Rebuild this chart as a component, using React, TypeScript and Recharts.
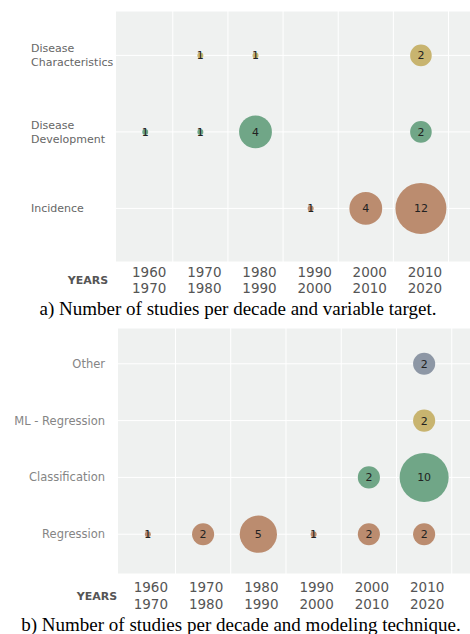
import React from "react";
import {
  ScatterChart, Scatter, XAxis, YAxis, ZAxis, CartesianGrid,
  ReferenceLine, LabelList
} from "recharts";

const decades = [1960, 1970, 1980, 1990, 2000, 2010];
const decadeEnds = [1970, 1980, 1990, 2000, 2010, 2020];
const decadeBounds = [1965, 1975, 1985, 1995, 2005, 2015];

// a) variable target
const targetRows = ["Incidence", "Disease Development", "Disease Characteristics"];
const characteristicsCounts = [null, 1, 1, null, null, 2];
const developmentCounts = [1, 1, 4, null, null, 2];
const incidenceCounts = [null, null, null, 1, 4, 12];

// b) modeling technique
const techniqueRows = ["Regression", "Classification", "ML - Regression", "Other"];
const regressionCounts = [1, 2, 5, 1, 2, 2];
const classificationCounts = [null, null, null, null, 2, 10];
const mlRegressionCounts = [null, null, null, null, null, 2];
const otherCounts = [null, null, null, null, null, 2];

const GOLD = "#c8b46f";
const GREEN = "#70a687";
const BROWN = "#bb8c6f";
const SLATE = "#8d97a5";
const BG = "#eff1f0";

function toPoints(counts: (number | null)[], row: number) {
  return decades
    .map((year, i) => (counts[i] ? { year, row, n: counts[i] } : null))
    .filter(Boolean) as { year: number; row: number; n: number }[];
}

function makeYearTick(dy1: number, dy2: number, dx: number, fill: string) {
  return (props: any) => {
    const { x, y, payload } = props;
    const i = decades.indexOf(payload.value);
    return (
      <text x={x + dx} y={y} textAnchor="middle" fontSize={13.5} fill={fill}
        fontFamily="DejaVu Sans">
        <tspan x={x + dx} dy={dy1}>{payload.value}</tspan>
        <tspan x={x + dx} dy={dy2 - dy1}>{decadeEnds[i]}</tspan>
      </text>
    );
  };
}

const TargetTick = (props: any) => {
  const { y, payload } = props;
  const words = targetRows[payload.value].split(" ");
  const start = -((words.length - 1) * 14) / 2;
  return (
    <text x={31} y={y} textAnchor="start" fontSize={11} fill="#666"
      fontFamily="DejaVu Sans">
      {words.map((w, i) => (
        <tspan key={w} x={31} dy={i === 0 ? start + 4 : 14}>{w}</tspan>
      ))}
    </text>
  );
};

const TechniqueTick = (props: any) => {
  const { y, payload } = props;
  return (
    <text x={105} y={y + 4} textAnchor="end" fontSize={11.5} fill="#858585"
      fontFamily="DejaVu Sans">
      {techniqueRows[payload.value]}
    </text>
  );
};

const labelStyle = { fontSize: 11, fill: "#222", fontFamily: "DejaVu Sans" };

function Bubbles({ data, color }: { data: any[]; color: string }) {
  return (
    <Scatter data={data} fill={color} isAnimationActive={false}>
      <LabelList dataKey="n" position="center" style={labelStyle} />
    </Scatter>
  );
}

const yearsStyle: React.CSSProperties = {
  position: "absolute", width: 60, textAlign: "center",
  fontFamily: "DejaVu Sans", fontWeight: "bold", fontSize: 11, color: "#555",
};

const captionStyle: React.CSSProperties = {
  position: "absolute", left: 0, width: 470, textAlign: "center",
  fontFamily: "Liberation Serif", fontSize: 19, lineHeight: "22px", color: "#000",
};

export default function App() {
  return (
    <div style={{ position: "relative", width: 470, height: 634, background: "#fff", overflow: "hidden" }}>
      <style>{"body{margin:0}"}</style>

      <div style={{ position: "absolute", left: 0, top: 0 }}>
        <ScatterChart width={470} height={300} margin={{ top: 11, right: 0, bottom: 0, left: 0 }}>
          <CartesianGrid fill={BG} stroke="#fff" vertical={false} />
          {decadeBounds.map((b) => (
            <ReferenceLine key={b} x={b} stroke="#fff" />
          ))}
          <XAxis type="number" dataKey="year" domain={[1954.7, 2018.9]} allowDataOverflow
            ticks={decades} interval={0} height={38} axisLine={false} tickLine={false}
            tickSize={0} tickMargin={0} tick={makeYearTick(15, 31, 4, "#555")} />
          <YAxis type="number" dataKey="row" domain={[-0.7, 2.58]} allowDataOverflow
            ticks={[0, 1, 2]} width={116} axisLine={false} tickLine={false} tick={TargetTick} />
          <ZAxis type="number" dataKey="n" domain={[1, 12]} range={[28, 2043]} scale="sqrt" />
          <Bubbles data={toPoints(characteristicsCounts, 2)} color={GOLD} />
          <Bubbles data={toPoints(developmentCounts, 1)} color={GREEN} />
          <Bubbles data={toPoints(incidenceCounts, 0)} color={BROWN} />
        </ScatterChart>
      </div>
      <div style={{ ...yearsStyle, left: 58, top: 274 }}>YEARS</div>
      <div style={{ ...captionStyle, left: 3, top: 298 }}>
        a) Number of studies per decade and variable target.
      </div>

      <div style={{ position: "absolute", left: 0, top: 317 }}>
        <ScatterChart width={470} height={300} margin={{ top: 11, right: 0, bottom: 0, left: 0 }}>
          <CartesianGrid fill={BG} stroke="#fff" vertical={false} />
          {decadeBounds.map((b) => (
            <ReferenceLine key={b} x={b} stroke="#fff" />
          ))}
          <XAxis type="number" dataKey="year" domain={[1954.6, 2018.3]} allowDataOverflow
            ticks={decades} interval={0} height={43} axisLine={false} tickLine={false}
            tickSize={0} tickMargin={0} tick={makeYearTick(18, 35, 3, "#555")} />
          <YAxis type="number" dataKey="row" domain={[-0.7, 3.63]} allowDataOverflow
            ticks={[0, 1, 2, 3]} width={118} axisLine={false} tickLine={false} tick={TechniqueTick} />
          <ZAxis type="number" dataKey="n" domain={[1, 10]} range={[28, 1886]} scale="sqrt" />
          <Bubbles data={toPoints(otherCounts, 3)} color={SLATE} />
          <Bubbles data={toPoints(mlRegressionCounts, 2)} color={GOLD} />
          <Bubbles data={toPoints(classificationCounts, 1)} color={GREEN} />
          <Bubbles data={toPoints(regressionCounts, 0)} color={BROWN} />
        </ScatterChart>
      </div>
      <div style={{ ...yearsStyle, left: 67, top: 590 }}>YEARS</div>
      <div style={{ ...captionStyle, left: 6, top: 614 }}>
        b) Number of studies per decade and modeling technique.
      </div>
    </div>
  );
}
